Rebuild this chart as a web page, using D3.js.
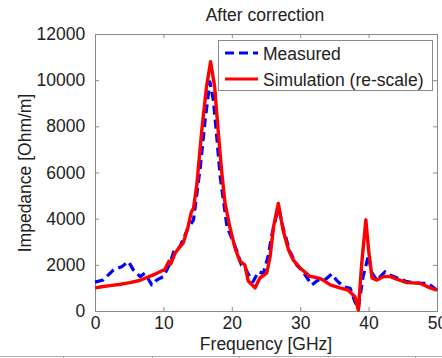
<!DOCTYPE html>
<html>
<head>
<meta charset="utf-8">
<script src="https://cdn.jsdelivr.net/npm/d3@7"></script>
<style>
  html, body { margin: 0; padding: 0; background: #fff; }
  svg { display: block; font-family: "Liberation Sans", Arial, sans-serif; }
</style>
</head>
<body>
<svg id="chart" width="442" height="358"></svg>
<script>
// ---- data ----
const title = "After correction";
const xLabel = "Frequency [GHz]";
const yLabel = "Impedance [Ohm/m]";
const xTicks = [0, 10, 20, 30, 40, 50];
const yTicks = [0, 2000, 4000, 6000, 8000, 10000, 12000];
const seriesNames = ["Measured", "Simulation (re-scale)"];

const measFreq = [0, 1.2, 2.7, 3.9, 4.9, 5.6, 6.6, 7.3, 8.3, 9.0, 10.0, 11.0, 11.5, 12.4, 13.6, 14.4,
  15.4, 16.1, 16.8, 17.3, 17.8, 18.3, 19.3, 20.7, 21.4, 21.9, 22.7, 23.1, 23.9, 24.6, 25.3, 25.8,
  26.6, 26.9, 27.5, 28.5, 29.5, 30.4, 31.7, 32.6, 33.6, 34.6, 35.3, 36.3, 37.3, 38.0, 38.5, 39.2,
  40.0, 40.4, 41.2, 42.4, 43.1, 44.3, 45.6, 47.5, 48.7, 50];
const measImp = [1250, 1340, 1780, 1920, 2140, 1780, 1490, 1640, 1130, 1340, 1490, 2080, 2570, 2780, 3590, 3940,
  6250, 8270, 9930, 9140, 7550, 5820, 3650, 2640, 1990, 1900, 1430, 1270, 1700, 1630, 2350, 3220,
  4230, 4400, 3600, 2570, 1990, 1700, 1130, 1340, 1340, 1600, 1340, 1050, 980, 400, 120, 1500,
  2430, 1700, 1340, 1700, 1560, 1420, 1270, 1200, 1200, 900];

const simFreq = [0, 1, 2.2, 3.5, 5.1, 6.5, 7.3, 8.8, 10.2, 10.8, 11.1, 11.7, 12.4, 12.9, 13.6, 14.1,
  14.4, 14.9, 15.6, 16.3, 16.9, 17.5, 18.0, 18.5, 19.0, 19.7, 20.5, 21.2, 21.9, 22.4, 23.4, 24.1,
  25.1, 25.6, 26.1, 26.8, 27.5, 28.3, 29.0, 30.0, 31.4, 32.4, 33.1, 33.8, 34.4, 35.8, 37.0, 38.0,
  38.5, 39.0, 39.6, 40.0, 40.5, 41.2, 42.2, 43.1, 44.1, 45.6, 47.5, 49.0, 50];
const simImp = [1000, 1050, 1100, 1150, 1230, 1320, 1420, 1600, 1800, 2150, 2050, 2500, 2780, 2940, 3640, 4300,
  4450, 5500, 7800, 9700, 10800, 9700, 7840, 6100, 4700, 3650, 2700, 2150, 2000, 1300, 1000, 1430,
  1640, 2350, 3650, 4660, 3500, 2640, 2200, 1860, 1500, 1450, 1380, 1250, 1130, 1000, 910, 620,
  40, 2080, 3950, 2640, 1430, 1340, 1490, 1500, 1380, 1230, 1200, 1000, 900];

// ---- layout ----
const svg = d3.select("#chart");
const m = { left: 95, right: 437, top: 34, bottom: 311 };
const x = d3.scaleLinear().domain([0, 50]).range([m.left, m.right]);
const y = d3.scaleLinear().domain([0, 12000]).range([m.bottom, m.top]);
const axisColor = "#8a8a8a";
const textColor = "#222";
const fs = 17.5;

svg.append("rect").attr("x", m.left).attr("y", m.top)
  .attr("width", m.right - m.left).attr("height", m.bottom - m.top).attr("fill", "#fff");

// axes (MATLAB-like box, inward ticks)
const gx = svg.append("g").attr("transform", `translate(0,${m.bottom})`)
  .call(d3.axisBottom(x).tickValues(xTicks).tickSize(-4).tickPadding(6).tickFormat(d3.format("d")));
const gxt = svg.append("g").attr("transform", `translate(0,${m.top})`)
  .call(d3.axisTop(x).tickValues(xTicks).tickSize(-4).tickFormat(""));
const gy = svg.append("g").attr("transform", `translate(${m.left},0)`)
  .call(d3.axisLeft(y).tickValues(yTicks).tickSize(-4).tickPadding(8).tickFormat(d3.format("d")));
const gyr = svg.append("g").attr("transform", `translate(${m.right},0)`)
  .call(d3.axisRight(y).tickValues(yTicks).tickSize(-4).tickFormat(""));
[gx, gxt, gy, gyr].forEach(g => {
  g.selectAll("path.domain").attr("stroke", axisColor).attr("stroke-width", 1);
  g.selectAll("line").attr("stroke", axisColor);
  g.selectAll("text").attr("fill", textColor).attr("font-size", fs)
    .attr("font-family", "Liberation Sans, Arial, sans-serif");
});
gy.selectAll("text").attr("dx", "-0.1em");

// series
const line = d3.line().x(d => x(d[0])).y(d => y(d[1]));
const measData = measFreq.map((f, i) => [f, measImp[i]]);
const simData = simFreq.map((f, i) => [f, simImp[i]]);

svg.append("path").datum(measData).attr("d", line)
  .attr("fill", "none").attr("stroke", "#0000ff").attr("stroke-width", 3.2)
  .attr("stroke-dasharray", "9,5").attr("stroke-linejoin", "round");
svg.append("path").datum(simData).attr("d", line)
  .attr("fill", "none").attr("stroke", "#ff0000").attr("stroke-width", 3.4)
  .attr("stroke-linejoin", "round");

// title and labels
svg.append("text").attr("x", 265).attr("y", 21).attr("text-anchor", "middle")
  .attr("font-size", 17.5).attr("fill", textColor).text(title);
svg.append("text").attr("x", 266).attr("y", 350).attr("text-anchor", "middle")
  .attr("font-size", fs).attr("fill", textColor).text(xLabel);
svg.append("text").attr("transform", `translate(31,173) rotate(-90)`).attr("text-anchor", "middle")
  .attr("font-size", fs).attr("fill", textColor).text(yLabel);

// legend
const lg = svg.append("g");
lg.append("rect").attr("x", 218.5).attr("y", 40.5).attr("width", 214).attr("height", 50)
  .attr("fill", "#fff").attr("stroke", axisColor);
const legendItems = [
  { name: seriesNames[0], color: "#0000ff", dash: "9,5", yy: 53 },
  { name: seriesNames[1], color: "#ff0000", dash: null, yy: 79 }
];
legendItems.forEach(it => {
  lg.append("line").attr("x1", 225).attr("x2", 258).attr("y1", it.yy).attr("y2", it.yy)
    .attr("stroke", it.color).attr("stroke-width", 3.2).attr("stroke-dasharray", it.dash);
  lg.append("text").attr("x", 263).attr("y", it.yy + 6.5).attr("font-size", fs)
    .attr("fill", textColor).text(it.name);
});

// table fragment at the bottom of the picture
const tableCols = [63, 152, 239, 328, 415];
svg.append("line").attr("x1", 0).attr("x2", 442).attr("y1", 356.5).attr("y2", 356.5)
  .attr("stroke", "#aaa");
svg.selectAll("line.tc").data(tableCols).enter().append("line").attr("class", "tc")
  .attr("x1", d => d + 0.5).attr("x2", d => d + 0.5).attr("y1", 356).attr("y2", 358)
  .attr("stroke", "#aaa");
</script>
</body>
</html>
